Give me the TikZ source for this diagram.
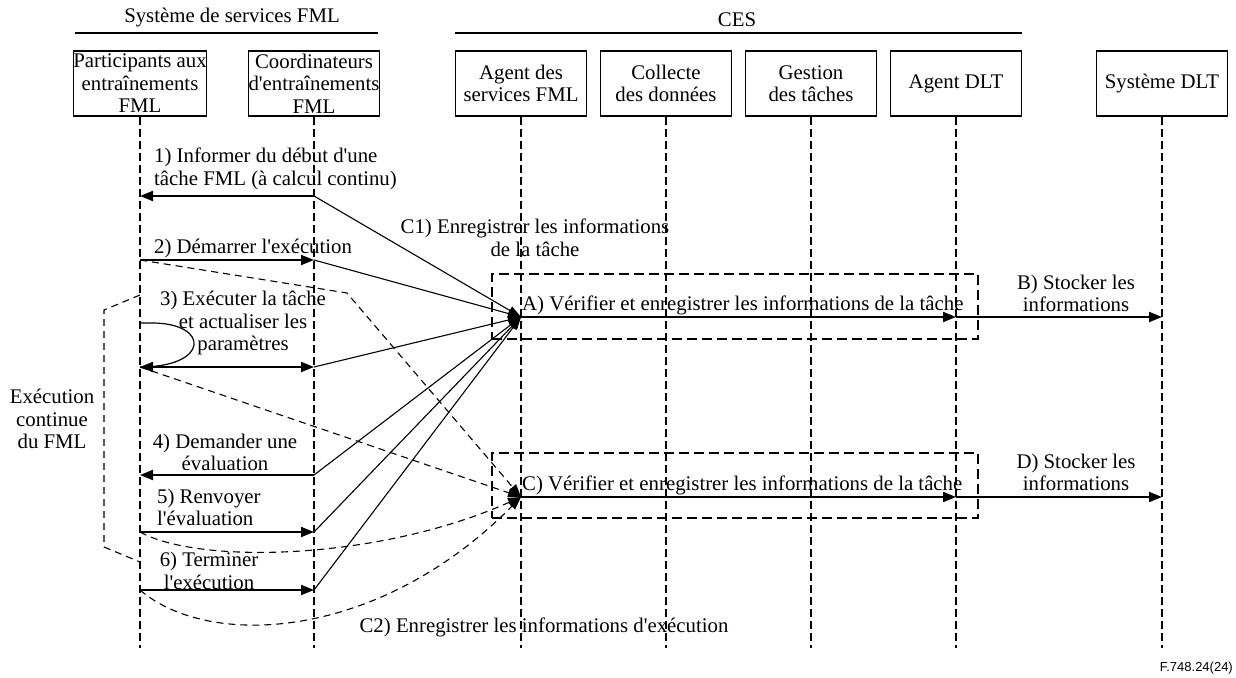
\documentclass[tikz,border=0pt]{standalone}
\usepackage{fontspec}
\setmainfont{Liberation Serif}[Ligatures=TeXOff]
\newfontfamily\figsans{Liberation Sans}
\usetikzlibrary{arrows.meta}

\begin{document}
\begin{tikzpicture}[x=1pt,y=-1pt,
  every node/.style={font=\fontsize{20.8}{22.5}\selectfont, inner sep=0pt},
  actor/.style={draw, line width=1.2pt, minimum width=131pt, minimum height=65pt, align=center},
  lifeline/.style={line width=1.6pt, dash pattern=on 8pt off 4pt},
  msg/.style={line width=1.9pt, -{Triangle[length=13pt,width=10pt]}},
  msgboth/.style={line width=1.9pt, {Triangle[length=13pt,width=10pt]}-{Triangle[length=13pt,width=10pt]}},
  feed/.style={line width=1.1pt, -{Triangle[length=13pt,width=9pt]}},
  feeddash/.style={feed, dash pattern=on 7pt off 5pt},
  thindash/.style={line width=1.1pt, dash pattern=on 7pt off 5pt},
  frame/.style={draw, line width=1.8pt, dash pattern=on 10pt off 5pt},
  rule/.style={line width=1.3pt},
  txt/.style={align=center}]
\useasboundingbox (0,0) rectangle (1236,677);

% group headings
\node (h1) at (232,18) {Système de services FML};
\draw[rule] (75,33) -- (378,33);
\node (h2) at (737,20) {CES};
\draw[rule] (455,33) -- (1022,33);

% participants
\node[actor] (p1) at (140,83.5) {Participants aux\\entraînements\\FML};
\node[actor] (p2) at (314,83.5) {Coordinateurs\\d'entraînements\\FML};
\node[actor] (p3) at (521,83.5) {Agent des\\services FML};
\node[actor] (p4) at (666,83.5) {Collecte\\des données};
\node[actor] (p5) at (811,83.5) {Gestion\\des tâches};
\node[actor] (p6) at (956,83.5) {Agent DLT};
\node[actor] (p7) at (1162,83.5) {Système DLT};

% lifelines
\foreach \n in {p1,p2,p3,p4,p5,p6,p7}
  \draw[lifeline] (\n.south) -- (\n.south |- 0,648);

% dashed frames around the two registration steps
\node[frame, minimum width=486pt, minimum height=65pt] (fa) at (735,306.5) {};
\node[frame, minimum width=486pt, minimum height=65pt] (fc) at (735,485.5) {};

% points on the lifelines
\coordinate (m1p) at (140,196); \coordinate (m1c) at (314,196);
\coordinate (m2p) at (140,260); \coordinate (m2c) at (314,260);
\coordinate (m3p) at (140,367); \coordinate (m3c) at (314,367);
\coordinate (m4p) at (140,475); \coordinate (m4c) at (314,475);
\coordinate (m5p) at (140,532); \coordinate (m5c) at (314,532);
\coordinate (m6p) at (140,590); \coordinate (m6c) at (314,590);
\coordinate (lp)  at (140,323);
\coordinate (A) at (521,317); \coordinate (Ae) at (956,317); \coordinate (Be) at (1162,317);
\coordinate (C) at (521,497); \coordinate (Ce) at (956,497); \coordinate (De) at (1162,497);
\coordinate (k2) at (347,293);
\coordinate (brt) at (140,295); \coordinate (br1) at (104,310);
\coordinate (br2) at (104,547); \coordinate (brb) at (140,562);

% bracket of the continuous execution
\draw[thindash] (brt) -- (br1) -- (br2) -- (brb);

% messages between participants and coordinators
\draw[msg] (m1c) -- (m1p);
\draw[msg] (m2p) -- (m2c);
\draw[line width=1.2pt] (lp) -- (152,323) .. controls (210,323) and (210,367) .. (m3p);
\draw[msgboth] (m3p) -- (m3c);
\draw[msg] (m4c) -- (m4p);
\draw[msg] (m5p) -- (m5c);
\draw[msg] (m6p) -- (m6c);

% C1: task information towards the FML service agent
\foreach \c in {m1c,m2c,m3c,m4c,m5c,m6c}
  \draw[feed] (\c) -- (A);
\draw[msg] (A) -- (Ae);
\draw[msg] (Ae) -- (Be);

% C2: execution information
\draw[feeddash] (m2p) -- (k2) -- (C);
\draw[feeddash] (m3p) -- (C);
\draw[feeddash] (m5p) .. controls (200,565) and (380,560) .. (C);
\draw[feeddash] (m6p) .. controls (210,650) and (380,640) .. (C);
\draw[msg] (C) -- (Ce);
\draw[msg] (Ce) -- (De);

% labels
\node[anchor=west, align=left] (t1) at (154,169) {1) Informer du début d'une\\tâche FML (à calcul continu)};
\node[anchor=west] (t2) at (154,248) {2) Démarrer l'exécution};
\node[txt] (t3) at (243,323) {3) Exécuter la tâche\\et actualiser les\\paramètres};
\node[txt] (t4) at (225,452.5) {4) Demander une\\évaluation};
\node[anchor=west, align=left] (t5) at (157,507.5) {5) Renvoyer\\l'évaluation};
\node[txt] (t6) at (209,571) {6) Terminer\\l'exécution};
\node[txt] (tc1) at (535,238) {C1) Enregistrer les informations\\de la tâche};
\node[txt] (tc2) at (544,627) {C2) Enregistrer les informations d'exécution};
\node[anchor=west] (ta) at (522,305) {A) Vérifier et enregistrer les informations de la tâche};
\node[anchor=west] (tcc) at (522,485) {C) Vérifier et enregistrer les informations de la tâche};
\node[txt] (tb) at (1076,293.5) {B) Stocker les\\informations};
\node[txt] (td) at (1076,472.5) {D) Stocker les\\informations};
\node[txt] (tx) at (52,419) {Exécution\\continue\\du FML};
\node[anchor=east, font=\figsans\fontsize{13}{15}\selectfont] (fig) at (1233,668) {F.748.24(24)};
\end{tikzpicture}
\end{document}
